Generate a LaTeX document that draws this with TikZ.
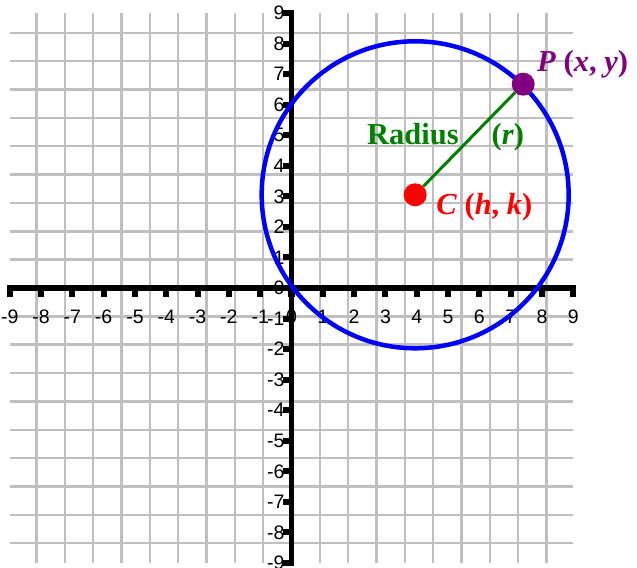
\documentclass[tikz,border=0pt]{standalone}
\usepackage{fontspec}
\setmainfont{Liberation Serif}
\setsansfont{Liberation Sans}

\definecolor{gridgray}{RGB}{192,192,192}
\definecolor{ptpurple}{RGB}{128,0,128}
\definecolor{radgreen}{RGB}{0,128,0}

\tikzset{
    gridline/.style={draw=gridgray, line width=2.4bp},
    axisline/.style={line width=5bp, line cap=rect},
    tickmark/.style={line width=6bp},
    ticklabel/.style={font=\sffamily\fontsize{19.5bp}{21bp}\selectfont, inner sep=0pt},
    dot/.style={circle, inner sep=0pt, minimum size=23bp},
    ptlabel/.style={font=\bfseries\fontsize{30.5bp}{32bp}\selectfont, inner sep=0pt, anchor=base west}
}

\begin{document}
\begin{tikzpicture}[x=31.31bp, y=30.56bp]

\useasboundingbox (-291.5bp,-280bp) rectangle (345.5bp,288bp);

% grid
\draw[gridline] (-9,-9) grid (9,9);

% numbers on the axes
\foreach \i in {-9,...,9} {
    \node[ticklabel] (xl\i) at (\i,-0.93) {\i};
}
\foreach \j in {-9,...,9} {
    \node[ticklabel, anchor=east] (yl\j) at (-0.22,\j) {\j};
}

% axes
\draw[axisline] (-9,0) -- (9,0);
\draw[axisline] (0,-9) -- (0,9);
\foreach \i in {-9,...,9} {
    \draw[tickmark] (\i,0) -- ++(0pt,-9bp);
    \draw[tickmark] (0,\i) -- ++(-8bp,0pt);
}

% circle
\coordinate (ctr) at (3.95,3.05);
\draw[blue, line width=4.5bp] (ctr) circle[radius=153.5bp];

\node[dot, fill=red] (C) at (ctr) {};
\node[dot, fill=ptpurple] (P) at (7.40,6.67) {};
\draw[radgreen, line width=3bp] (C) -- (P);

% labels
\node[ptlabel, text=ptpurple] (Plbl) at (7.84,7.08)
    {\textit{P} (\textit{x}, \textit{y})};
\node[ptlabel, text=red] (Clbl) at (4.62,2.42)
    {\textit{C} (\textit{h}, \textit{k})};
\node[ptlabel, text=radgreen] (Rlbl) at (2.41,4.70)
    {Radius\hspace{33bp}(\textit{r})};

\end{tikzpicture}
\end{document}
